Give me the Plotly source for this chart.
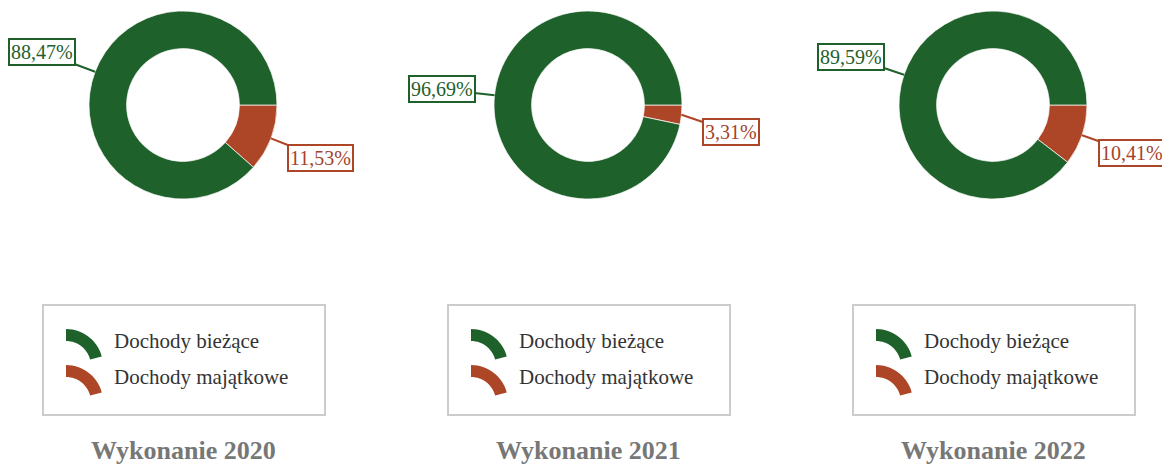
import math
import plotly.graph_objects as go

# page body adds an 8px margin, so the figure is drawn 8px in from the corner
OFF = 8
W, H = 1170 - OFF, 465 - OFF

years = ["2020", "2021", "2022"]
categories = ["Dochody bieżące", "Dochody majątkowe"]
dochody_biezace = [88.47, 96.69, 89.59]
dochody_majatkowe = [11.53, 3.31, 10.41]

colors = ["#1f612b", "#ad4527"]
text_colors = ["#1f612b", "#a5432a"]

# layout (page pixels)
centers_x = [183, 588, 993]
center_y = 105
radius = 94
hole = 0.6


def px(x):
    return (x - OFF) / W


def py(y):
    return 1 - (y - OFF) / H


def fmt(v):
    return f"{v:.2f}".replace(".", ",") + "%"


fig = go.Figure()
annotations = []
shapes = []

for i, year in enumerate(years):
    cx = centers_x[i]
    vals = [dochody_biezace[i], dochody_majatkowe[i]]
    # majatkowe first, clockwise from 3 o'clock
    fig.add_trace(go.Pie(
        labels=categories[::-1],
        values=vals[::-1],
        hole=hole,
        sort=False,
        direction="clockwise",
        rotation=90,
        textinfo="none",
        hoverinfo="label+percent",
        showlegend=False,
        marker=dict(colors=colors[::-1], line=dict(color="rgba(255,255,255,0.7)", width=1)),
        domain=dict(x=[px(cx - radius), px(cx + radius)],
                    y=[py(center_y + radius), py(center_y - radius)]),
    ))

    # outside labels with connectors
    total = sum(vals)
    start = 0.0
    for k, v in enumerate(vals):
        mid = start + v / total * 180.0
        start += v / total * 360.0
        a = math.radians(mid)
        ex = cx + radius * math.cos(a)
        ey = center_y - radius * math.sin(a)
        ax = 50 if math.cos(a) >= 0 else -53
        ay = -56 * math.sin(a)
        if k == 1:
            ay = max(ay, 17)
        annotations.append(dict(
            x=px(ex), y=py(ey), xref="paper", yref="paper",
            text=fmt(v), showarrow=True, arrowhead=0, arrowwidth=2,
            arrowcolor=colors[k], ax=ax, ay=ay,
            font=dict(family="Liberation Serif", size=20, color=text_colors[k]),
            bgcolor="white", bordercolor=colors[k], borderwidth=2, borderpad=1,
        ))

    # legend box
    lx0 = cx - 140
    shapes.append(dict(type="rect", xref="paper", yref="paper",
                       x0=px(lx0), x1=px(lx0 + 282), y0=py(415), y1=py(305),
                       line=dict(color="#cccccc", width=2), fillcolor="white"))
    for k, cat in enumerate(categories):
        iy = 341 + 36 * k
        ox, oy = lx0 + 23, iy + 25
        r_out, r_in = 37, 25
        a0, a1 = 90, 15
        pts_out = [(ox + r_out * math.cos(math.radians(t)), oy - r_out * math.sin(math.radians(t)))
                   for t in range(a0, a1 - 1, -5)]
        pts_in = [(ox + r_in * math.cos(math.radians(t)), oy - r_in * math.sin(math.radians(t)))
                  for t in range(a1, a0 + 1, 5)]
        pts = pts_out + pts_in
        path = "M " + " L ".join(f"{px(x):.5f},{py(y):.5f}" for x, y in pts) + " Z"
        shapes.append(dict(type="path", xref="paper", yref="paper", path=path,
                           fillcolor=colors[k], line=dict(width=0)))
        annotations.append(dict(
            x=px(lx0 + 69), y=py(iy), xref="paper", yref="paper",
            text=cat, showarrow=False, xanchor="left", yanchor="middle",
            font=dict(family="Liberation Serif", size=21, color="#333333"),
        ))

    # title
    annotations.append(dict(
        x=px(cx), y=py(450), xref="paper", yref="paper",
        text="<b>Wykonanie " + year + "</b>", showarrow=False,
        xanchor="center", yanchor="middle",
        font=dict(family="Liberation Serif", size=26, color="#777777"),
    ))

fig.update_layout(
    width=W, height=H,
    margin=dict(l=0, r=0, t=0, b=0),
    paper_bgcolor="white", plot_bgcolor="white",
    annotations=annotations, shapes=shapes,
)

fig.write_html("out.html")
